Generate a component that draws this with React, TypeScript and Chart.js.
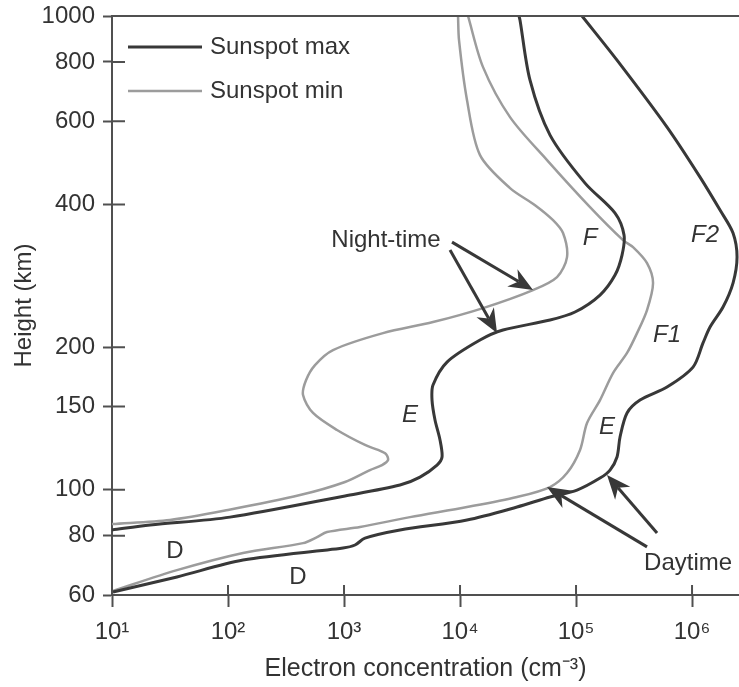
import React, { useEffect, useRef } from "react";
import { Chart, registerables } from "chart.js";

Chart.register(...registerables);

// ---- axis ranges and ticks ----
const X_MIN = 10;
const X_MAX = 2.54e6;
const Y_MIN = 60;
const Y_MAX = 1000;

const xTickValues = [10, 100, 1000, 10000, 100000, 1000000];
const xTickLabels = ["10¹", "10²", "10³", "10⁴", "10⁵", "10⁶"];
const yTickValues = [60, 80, 100, 150, 200, 400, 600, 800, 1000];
const yTickLabels = ["60", "80", "100", "150", "200", "400", "600", "800", "1000"];

const xTitle = "Electron concentration (cm⁻³)";
const yTitle = "Height (km)";
const legendNames = ["Sunspot max", "Sunspot min"];

// ---- series: electron concentration (cm^-3) vs height (km) ----
const nightMaxConc = [10, 21.3, 104, 1020, 3039, 4520, 6336, 6997, 6723, 6087, 5736, 5850, 7726, 14875, 23480, 59700, 98000, 161000, 216900, 249200, 259300, 216900, 119600, 59700, 40120, 32900, 32250];
const nightMaxHeight = [82.3, 84.3, 87.6, 97.1, 102.4, 106.4, 112.8, 117.3, 127.4, 140.4, 154.7, 166.4, 186.1, 207.1, 217.4, 228.2, 237.3, 257.7, 284.0, 312.9, 344.9, 383.8, 444.0, 560.6, 732, 980, 1000];

const nightMinConc = [10, 31.6, 100, 417.6, 1020, 1675, 2127, 2395, 2302, 1964, 1517, 870, 540.6, 443.3, 470.3, 562.3, 803.9, 2169, 5850, 15790, 42590, 68590, 83630, 77260, 63360, 44330, 26980, 14875, 11490, 9803, 9612];
const nightMinHeight = [84.7, 86.4, 90.7, 97.5, 103.9, 110.1, 112.8, 115.6, 119.0, 121.4, 124.4, 133.8, 145.3, 158.5, 170.4, 183.4, 197.3, 214.2, 226, 241.9, 264.0, 281.2, 309.9, 348.3, 370.9, 398.9, 433.4, 508.7, 664.3, 889, 1000];

const dayMaxConc = [10.2, 36.3, 134.7, 980, 1244, 1517, 3039, 11490, 31000, 59700, 102000, 161000, 196400, 225600, 239500, 275300, 356300, 608700, 1020000, 1244000, 1430000, 1850000, 2256000, 2443000, 2256000, 1743000, 1172000, 608700, 225600, 112600];
const dayMaxHeight = [60.9, 65.5, 71.1, 75.4, 76.5, 79.1, 82.3, 86.4, 92.0, 96.6, 99.9, 105.9, 110.1, 117.3, 129.3, 145.3, 154.7, 164.8, 181.6, 204.2, 220.6, 243.1, 273.2, 309.9, 348.3, 389.4, 457.1, 582.8, 807, 1000];

const dayMinConc = [10.2, 36.3, 134.7, 443.3, 585.2, 713.6, 1373, 3707, 11490, 31000, 59700, 83630, 108300, 124400, 161000, 208400, 275300, 335700, 409300, 461200, 409300, 310000, 254200, 132000, 56230, 26980, 15790, 11720];
const dayMinHeight = [61.2, 67.7, 73.6, 77.2, 79.5, 81.5, 83.5, 87.6, 92.0, 96.6, 101.4, 108.5, 121.4, 138.4, 154.7, 176.4, 194.5, 214.2, 239.6, 273.2, 301.0, 325.3, 336.5, 395.1, 496.5, 611.7, 780, 1000];

// ---- annotations (data coordinates) ----
const noteTexts = ["Night-time", "F", "F2", "F1", "E", "E", "D", "D", "Daytime"];
const noteConc = [2302, 132000, 1295000, 608700, 3707, 185000, 34.9, 401, 924000];
const noteHeight = [336.5, 340, 344.9, 212.2, 143.9, 135.7, 74.0, 65.5, 70.1];
const noteItalic = [false, true, true, true, true, true, false, false, false];

const arrowTailConc = [8531, 8199, 409300, 499300];
const arrowTailHeight = [333.3, 320.6, 75.8, 81.1];
const arrowTipConc = [42590, 20840, 56230, 185000];
const arrowTipHeight = [264.0, 214.2, 101.4, 107.5];

// ---- styles ----
const DARK = "#383838";
const GRAY = "#9c9c9c";
const AXIS = "#505050";
const TEXT = "#333333";
const FONT_FAMILY = "'Liberation Sans', Arial, Helvetica, sans-serif";
const FONT_SIZE = 24;

const toPoints = (xs: number[], ys: number[]) => xs.map((x, i) => ({ x, y: ys[i] }));

const overlayPlugin = {
  id: "overlay",
  afterDatasetsDraw(chart: any) {
    const { ctx, chartArea, scales } = chart;
    const xs = scales.x;
    const ys = scales.y;
    ctx.save();

    // top frame line
    ctx.strokeStyle = AXIS;
    ctx.lineWidth = 2;
    ctx.beginPath();
    ctx.moveTo(chartArea.left, chartArea.top);
    ctx.lineTo(chartArea.right, chartArea.top);
    ctx.stroke();

    // inner parts of tick marks
    ctx.beginPath();
    yTickValues.forEach((v) => {
      const py = ys.getPixelForValue(v);
      ctx.moveTo(chartArea.left, py);
      ctx.lineTo(chartArea.left + 13, py);
    });
    xTickValues.forEach((v) => {
      const px = xs.getPixelForValue(v);
      ctx.moveTo(px, chartArea.bottom);
      ctx.lineTo(px, chartArea.bottom - 10);
    });
    ctx.stroke();

    // legend
    const legendDatasets = [chart.data.datasets[0], chart.data.datasets[2]];
    legendDatasets.forEach((ds: any, i: number) => {
      const y = chartArea.top + 31 + i * 44;
      ctx.strokeStyle = ds.borderColor;
      ctx.lineWidth = ds.borderWidth;
      ctx.beginPath();
      ctx.moveTo(chartArea.left + 16, y);
      ctx.lineTo(chartArea.left + 90, y);
      ctx.stroke();
      ctx.fillStyle = TEXT;
      ctx.font = `${FONT_SIZE}px ${FONT_FAMILY}`;
      ctx.textAlign = "left";
      ctx.textBaseline = "middle";
      ctx.fillText(legendNames[i], chartArea.left + 98, y);
    });

    // text annotations
    ctx.fillStyle = TEXT;
    ctx.textAlign = "center";
    ctx.textBaseline = "middle";
    noteTexts.forEach((t, i) => {
      ctx.font = `${noteItalic[i] ? "italic " : ""}${FONT_SIZE}px ${FONT_FAMILY}`;
      ctx.fillText(t, xs.getPixelForValue(noteConc[i]), ys.getPixelForValue(noteHeight[i]));
    });

    // arrows
    ctx.strokeStyle = DARK;
    ctx.fillStyle = DARK;
    arrowTailConc.forEach((_, i) => {
      const x0 = xs.getPixelForValue(arrowTailConc[i]);
      const y0 = ys.getPixelForValue(arrowTailHeight[i]);
      const x1 = xs.getPixelForValue(arrowTipConc[i]);
      const y1 = ys.getPixelForValue(arrowTipHeight[i]);
      const ang = Math.atan2(y1 - y0, x1 - x0);
      const L = 24;
      const W = 10;
      const ux = Math.cos(ang);
      const uy = Math.sin(ang);
      const bx = x1 - ux * L;
      const by = y1 - uy * L;
      const nx = x1 - ux * L * 0.7;
      const ny = y1 - uy * L * 0.7;
      ctx.lineWidth = 3;
      ctx.beginPath();
      ctx.moveTo(x0, y0);
      ctx.lineTo(nx, ny);
      ctx.stroke();
      ctx.beginPath();
      ctx.moveTo(x1, y1);
      ctx.lineTo(bx - uy * W, by + ux * W);
      ctx.lineTo(nx, ny);
      ctx.lineTo(bx + uy * W, by - ux * W);
      ctx.closePath();
      ctx.fill();
    });

    ctx.restore();
  },
};

export default function App() {
  const canvasRef = useRef<HTMLCanvasElement | null>(null);

  useEffect(() => {
    if (!canvasRef.current) return;
    Chart.defaults.font.family = FONT_FAMILY;
    const tickFont = { size: FONT_SIZE, family: FONT_FAMILY };
    const chart = new Chart(canvasRef.current, {
      type: "scatter",
      data: {
        datasets: [
          { label: "Sunspot max (night)", data: toPoints(nightMaxConc, nightMaxHeight), borderColor: DARK, borderWidth: 3 },
          { label: "Sunspot max (day)", data: toPoints(dayMaxConc, dayMaxHeight), borderColor: DARK, borderWidth: 3 },
          { label: "Sunspot min (night)", data: toPoints(nightMinConc, nightMinHeight), borderColor: GRAY, borderWidth: 2.5 },
          { label: "Sunspot min (day)", data: toPoints(dayMinConc, dayMinHeight), borderColor: GRAY, borderWidth: 2.5 },
        ].map((d) => ({ ...d, showLine: true, pointRadius: 0, pointHoverRadius: 0, tension: 0.3, fill: false, backgroundColor: d.borderColor })),
      },
      options: {
        responsive: false,
        animation: false,
        devicePixelRatio: 1,
        layout: { padding: { top: 16, right: 0, left: 0, bottom: 0 } },
        plugins: { legend: { display: false }, tooltip: { enabled: false } },
        scales: {
          x: {
            type: "logarithmic",
            position: "bottom",
            min: X_MIN,
            max: X_MAX,
            afterBuildTicks: (s: any) => {
              s.ticks = xTickValues.map((v) => ({ value: v }));
            },
            afterFit: (s: any) => {
              s.height = 92;
              s.paddingLeft = 0;
              s.paddingRight = 0;
            },
            ticks: {
              autoSkip: false,
              maxRotation: 0,
              padding: 11,
              color: TEXT,
              font: tickFont,
              callback: (_v: any, i: number) => xTickLabels[i],
            },
            grid: { display: true, drawOnChartArea: false, drawTicks: true, tickLength: 12, tickWidth: 2, tickColor: AXIS },
            border: { display: true, color: AXIS, width: 2 },
            title: { display: true, text: xTitle, color: TEXT, font: { size: 25, family: FONT_FAMILY }, padding: { top: 0, bottom: 3 } },
          },
          y: {
            type: "logarithmic",
            position: "left",
            min: Y_MIN,
            max: Y_MAX,
            afterBuildTicks: (s: any) => {
              s.ticks = yTickValues.map((v) => ({ value: v }));
            },
            afterFit: (s: any) => {
              s.width = 112;
              s.paddingTop = 0;
              s.paddingBottom = 0;
            },
            ticks: {
              autoSkip: false,
              padding: 8,
              color: TEXT,
              font: tickFont,
              callback: (_v: any, i: number) => yTickLabels[i],
            },
            grid: { display: true, drawOnChartArea: false, drawTicks: true, tickLength: 9, tickWidth: 2, tickColor: AXIS },
            border: { display: true, color: AXIS, width: 2 },
            title: { display: true, text: yTitle, color: TEXT, font: tickFont, padding: { top: 10, bottom: 0 } },
          },
        },
      },
      plugins: [overlayPlugin],
    } as any);
    return () => chart.destroy();
  }, []);

  return (
    <div style={{ position: "absolute", left: 0, top: 0, width: 739, height: 687, background: "#fff" }}>
      <canvas ref={canvasRef} width={739} height={687} />
    </div>
  );
}
